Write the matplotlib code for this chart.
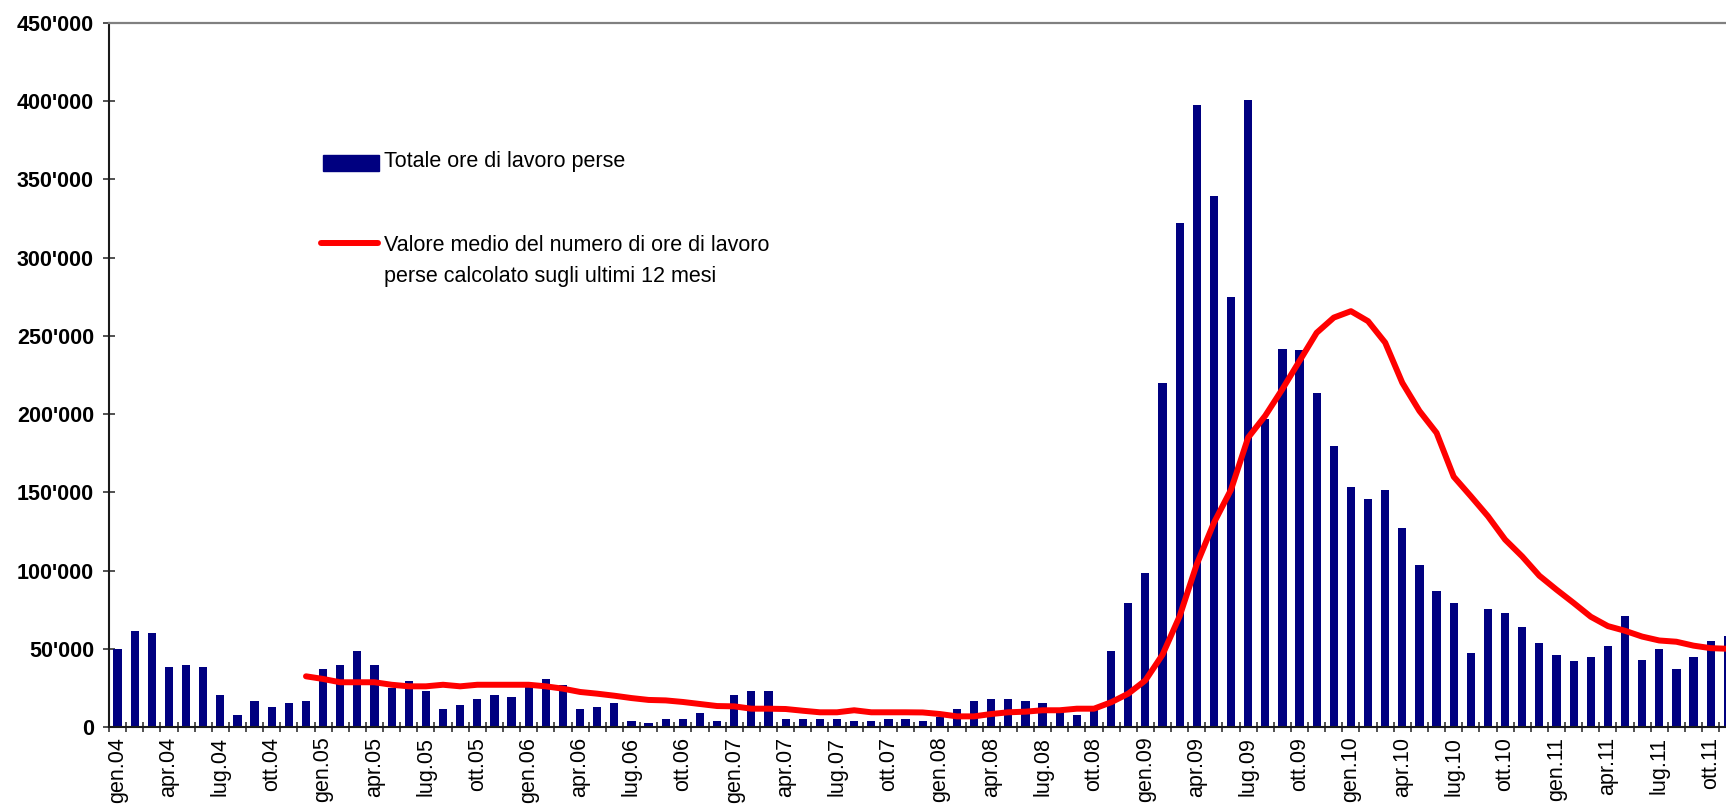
import matplotlib.pyplot as plt
import numpy as np
from matplotlib.ticker import FixedLocator, FuncFormatter, NullFormatter
from matplotlib.patches import Rectangle
from matplotlib.lines import Line2D

plt.rcParams['font.family'] = ['Liberation Sans', 'DejaVu Sans']

mesi = ["gen", "feb", "mar", "apr", "mag", "giu", "lug", "ago", "set", "ott", "nov", "dic"]
anni = ["04", "05", "06", "07", "08", "09", "10", "11"]

# ore di lavoro perse al mese, gen.04 - nov.11
ore_perse = [
    50000, 61500, 60300, 38600, 39900, 38600, 20700, 7900, 16800, 13000, 15600, 16800,
    37300, 39900, 48800, 39900, 25000, 29600, 23200, 11700, 14300, 18100, 20700, 19400,
    26000, 30900, 27000, 11700, 13000, 15600, 4000, 2800, 5300, 5300, 9200, 4000,
    20700, 23200, 23200, 5300, 5300, 5300, 5300, 4000, 4000, 5300, 5300, 4000,
    6500, 11700, 16800, 18100, 18100, 16800, 15600, 10500, 7900, 11000, 48800, 79500,
    98700, 220000, 322400, 397300, 339100, 275100, 400500, 197100, 241900, 240700, 213700, 179300,
    153700, 146000, 151200, 126900, 103800, 87200, 79500, 47500, 75700, 73100, 64200, 53900,
    46200, 42400, 45000, 52000, 71000, 43000, 50000, 37000, 45000, 55000, 58000,
]

# media sugli ultimi 12 mesi, da dic.04
media_12m = [
    32400,
    30700, 28600, 28600, 28600, 27000, 26000, 26000, 27000, 26000, 27000, 27000, 27000,
    27000, 26000, 24500, 22400, 21300, 20000, 18500, 17300, 17000, 16000, 14700, 13400,
    13200, 11700, 11700, 11500, 10400, 9400, 9400, 10700, 9400, 9400, 9400, 9300,
    8300, 6800, 6800, 8300, 9400, 9800, 10700, 10700, 11700, 11700, 15800, 21300,
    29800, 46200, 70800, 104000, 130500, 151700, 185000, 199000, 216000, 234000, 252000, 261700,
    265800, 259400, 245700, 220000, 202000, 188000, 160000, 147500, 134700, 119800, 109000, 96700,
    87800, 79300, 70500, 64500, 61500, 57800, 55300, 54500, 52000, 50400, 50000,
]
inizio_media = 11

etichette = [f"{m}.{a}" for a in anni for m in mesi][:len(ore_perse)]

W, H = 1726, 810
fig = plt.figure(figsize=(W / 100, H / 100), dpi=100)
left, right, top, bottom = 109, 1726, 23, 727
ax = fig.add_axes([left / W, 1 - bottom / H, (right - left) / W, (bottom - top) / H])

x = np.arange(len(ore_perse))
ax.bar(x, ore_perse, width=0.48, color='#000080', zorder=2)
xm = np.arange(inizio_media, inizio_media + len(media_12m))
ax.plot(xm, media_12m, color='#ff0000', lw=4.3, solid_joinstyle='round',
        solid_capstyle='round', zorder=3)

px_mese = 17.13
ax.set_xlim(-0.5, -0.5 + (right - left) / px_mese)
ax.set_ylim(0, 450000)

# ticks between months, labels every 3 months
ax.xaxis.set_major_locator(FixedLocator(np.arange(-0.5, len(ore_perse), 1)))
ax.xaxis.set_major_formatter(NullFormatter())
ax.set_xticks(x[::3], etichette[::3], minor=True)
ax.tick_params(axis='x', which='major', direction='inout', length=6.5, width=1.2, color='#333333')
ax.tick_params(axis='x', which='minor', length=0, rotation=90, labelsize=15.5, pad=7)

ax.set_yticks(np.arange(0, 450001, 50000))
ax.yaxis.set_major_formatter(FuncFormatter(lambda v, p: f"{int(v):,}".replace(",", "'")))
ax.tick_params(axis='y', direction='inout', length=8.6, width=1.2, color='#333333',
               labelsize=15.5, pad=6.5)
for lab in ax.get_yticklabels():
    lab.set_fontweight('bold')

ax.spines['right'].set_visible(False)
ax.spines['top'].set_color('#808080')
ax.spines['top'].set_linewidth(1.6)
for s in ['left', 'bottom']:
    ax.spines[s].set_color('#1a1a1a')
    ax.spines[s].set_linewidth(1.5)


def fx(px):
    return px / W


def fy(py):
    return 1 - py / H


# legend drawn by hand to keep the gap between entries
fig.add_artist(Rectangle((fx(323), fy(171)), (379 - 323) / W, (171 - 155) / H,
                         transform=fig.transFigure, color='#000080'))
fig.add_artist(Line2D([fx(321), fx(378)], [fy(243), fy(243)], transform=fig.transFigure,
                      color='#ff0000', lw=4.3, solid_capstyle='round'))
fig.text(fx(384), fy(166.7), "Totale ore di lavoro perse", fontsize=15.5, va='baseline')
fig.text(fx(384), fy(250.7), "Valore medio del numero di ore di lavoro", fontsize=15.5, va='baseline')
fig.text(fx(384), fy(282), "perse calcolato sugli ultimi 12 mesi", fontsize=15.5, va='baseline')

fig.savefig('out.png', dpi=100)
